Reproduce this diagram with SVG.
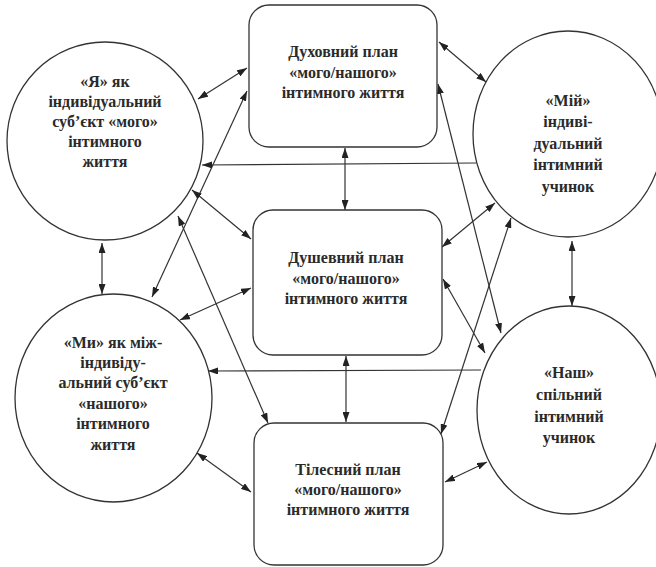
<svg xmlns="http://www.w3.org/2000/svg" width="656" height="567" viewBox="0 0 656 567">
<style>
.node{fill:#fff;stroke:#333;stroke-width:1.3}
.t{font-family:"Liberation Serif","Times New Roman",serif;font-weight:bold;font-size:16px;fill:#2a2a2a;text-anchor:middle}
.c{fill:none;stroke:#333;stroke-width:1.2}
.d{marker-start:url(#ah);marker-end:url(#ah)}
.s{marker-end:url(#ah)}
</style>
<defs>
<marker id="ah" viewBox="0 0 10 7" refX="10" refY="3.5" markerWidth="10" markerHeight="7" markerUnits="userSpaceOnUse" orient="auto-start-reverse">
<path d="M0,0 L10,3.5 L0,7 z" fill="#222"/>
</marker>
</defs>
<rect width="656" height="567" fill="#fff"/>
<g id="connectors">
<line class="c d" x1="198" y1="99" x2="247" y2="68"/>
<line class="c d" x1="152" y1="297" x2="247" y2="91"/>
<line class="c s" x1="476" y1="163" x2="202" y2="165"/>
<line class="c d" x1="192" y1="190" x2="251" y2="239"/>
<line class="c d" x1="178" y1="216" x2="268" y2="423"/>
<line class="c d" x1="102" y1="243" x2="102" y2="294"/>
<line class="c d" x1="180" y1="320" x2="251" y2="288"/>
<line class="c s" x1="481" y1="370" x2="208" y2="371"/>
<line class="c d" x1="197" y1="453" x2="251" y2="492"/>
<line class="c d" x1="345" y1="148" x2="345" y2="210"/>
<line class="c d" x1="346" y1="356" x2="346" y2="422"/>
<line class="c d" x1="439" y1="42" x2="486" y2="82"/>
<line class="c d" x1="438" y1="84" x2="501" y2="333"/>
<line class="c d" x1="442" y1="247" x2="495" y2="203"/>
<line class="c d" x1="511" y1="218" x2="441" y2="434"/>
<line class="c d" x1="443" y1="279" x2="485" y2="353"/>
<line class="c d" x1="572" y1="241" x2="572" y2="306"/>
<line class="c d" x1="445" y1="482" x2="487" y2="462"/>
</g>
<g id="n-ya">
<ellipse class="node" cx="105" cy="141" rx="98" ry="99"/>
<text class="t" x="105" y="87">«Я» як</text>
<text class="t" x="105" y="107">індивідуальний</text>
<text class="t" x="105" y="127">суб’єкт «мого»</text>
<text class="t" x="105" y="147">інтимного</text>
<text class="t" x="105" y="167">життя</text>
</g>
<g id="n-my">
<ellipse class="node" cx="113.5" cy="398" rx="98.5" ry="104"/>
<text class="t" x="113" y="348">«Ми» як між-</text>
<text class="t" x="113" y="368">індивіду-</text>
<text class="t" x="113" y="388">альний суб’єкт</text>
<text class="t" x="113" y="409">«нашого»</text>
<text class="t" x="113" y="429">інтимного</text>
<text class="t" x="113" y="450">життя</text>
</g>
<g id="n-miy">
<ellipse class="node" cx="568" cy="134" rx="95" ry="103"/>
<text class="t" x="568" y="106">«Мій»</text>
<text class="t" x="568" y="127">індиві-</text>
<text class="t" x="568" y="149">дуальний</text>
<text class="t" x="568" y="170">інтимний</text>
<text class="t" x="568" y="192">учинок</text>
</g>
<g id="n-nash">
<ellipse class="node" cx="569" cy="410" rx="92" ry="104"/>
<text class="t" x="569" y="378">«Наш»</text>
<text class="t" x="569" y="400">спільний</text>
<text class="t" x="569" y="422">інтимний</text>
<text class="t" x="569" y="443">учинок</text>
</g>
<g id="n-dukh">
<rect class="node" x="249" y="5" width="188" height="142" rx="20"/>
<text class="t" x="343" y="57">Духовний план</text>
<text class="t" x="343" y="78">«мого/нашого»</text>
<text class="t" x="343" y="98">інтимного життя</text>
</g>
<g id="n-dush">
<rect class="node" x="253" y="210" width="189" height="145" rx="20"/>
<text class="t" x="346" y="263">Душевний план</text>
<text class="t" x="346" y="284">«мого/нашого»</text>
<text class="t" x="346" y="304">інтимного життя</text>
</g>
<g id="n-til">
<rect class="node" x="254" y="423" width="189" height="142" rx="20"/>
<text class="t" x="348" y="475">Тілесний план</text>
<text class="t" x="348" y="495">«мого/нашого»</text>
<text class="t" x="348" y="515">інтимного життя</text>
</g>
</svg>
